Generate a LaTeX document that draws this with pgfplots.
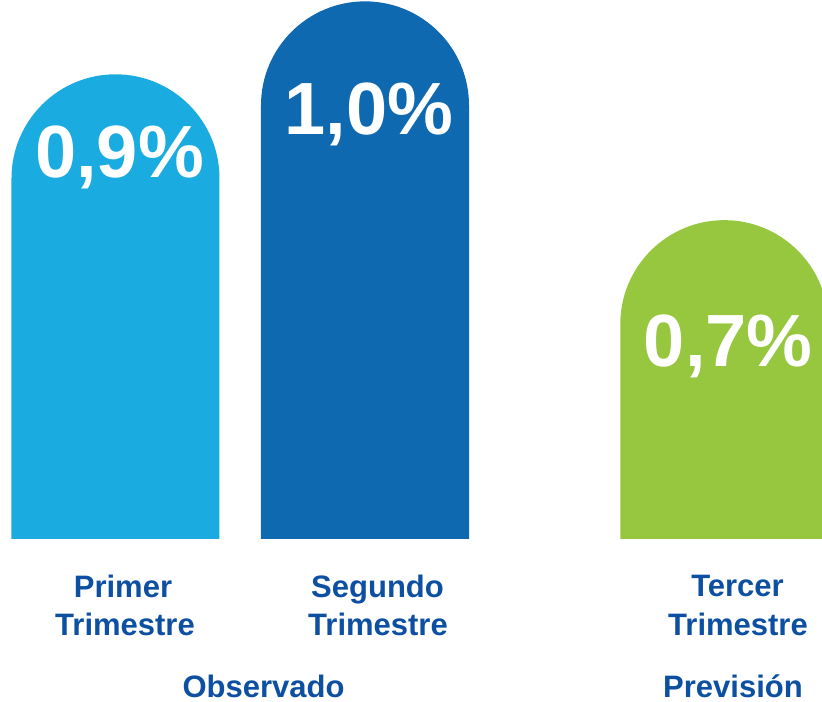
\documentclass[border=0pt]{standalone}
\usepackage{fontspec}
\setmainfont{Liberation Sans}
\usepackage{pgfplots}
\pgfplotsset{compat=1.18}
\definecolor{barA}{HTML}{1AACE1}
\definecolor{barB}{HTML}{0E69B1}
\definecolor{barC}{HTML}{97C73E}
\definecolor{txt}{HTML}{0D4FA0}
\begin{document}
\begin{tikzpicture}[x=1pt,y=1pt]
\path[use as bounding box] (0,0) rectangle (411,350.5);
\begin{scope}
\clip (0,81.5) rectangle (411,350.5);
\begin{axis}[at={(0pt,21.5pt)}, anchor=south west, scale only axis,
  width=411pt, height=329pt,
  xmin=-0.4629, xmax=2.8317, ymin=0.09966, ymax=1.0019,
  hide axis, clip=true,
  ybar, bar width=104pt, bar shift=0pt,
  point meta=explicit symbolic, nodes near coords,
  every node near coord/.append style={white, font=\fontsize{37}{40}\selectfont\bfseries, anchor=base, xshift=2pt}]
\addplot[fill=barA, draw=none, rounded corners=52pt,
  every node near coord/.append style={yshift=-51.4pt}] coordinates {(0,0.9) [{0,9\%}]};
\addplot[fill=barB, draw=none, rounded corners=52pt,
  every node near coord/.append style={yshift=-66.8pt}] coordinates {(1,1.0) [{1,0\%}]};
\addplot[fill=barC, draw=none, rounded corners=52pt,
  every node near coord/.append style={yshift=-73.4pt}] coordinates {(2.44,0.7) [{0,7\%}]};
\end{axis}
\end{scope}
\begin{scope}[every node/.style={txt, font=\fontsize{15.5}{18}\selectfont\bfseries, anchor=base, inner sep=0pt}]
\node at (61.5,52) {Primer};
\node at (62.5,33) {Trimestre};
\node at (188.75,52) {Segundo};
\node at (189,33) {Trimestre};
\node at (368.75,52.5) {Tercer};
\node at (369,33) {Trimestre};
\node at (131.75,2) {Observado};
\node at (366.5,2) {Previsión};
\end{scope}
\end{tikzpicture}
\end{document}
